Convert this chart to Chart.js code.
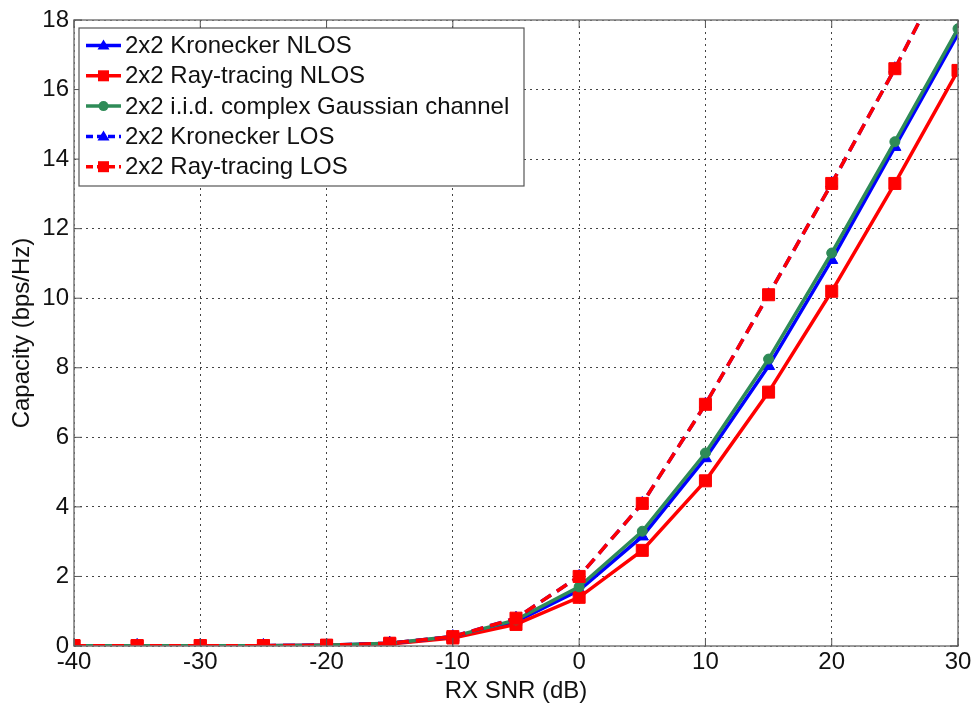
<!DOCTYPE html>
<html>
<head>
<meta charset="utf-8">
<script src="https://cdn.jsdelivr.net/npm/chart.js@4"></script>
<style>
  html, body { margin: 0; padding: 0; background: #fff; }
  #wrap { width: 975px; height: 706px; }
</style>
</head>
<body>
<div id="wrap"><canvas id="capChart" width="975" height="706"></canvas></div>
<script>
// SNR points (dB)
const snr = [-40, -35, -30, -25, -20, -15, -10, -5, 0, 5, 10, 15, 20, 25, 30];

// capacity (bps/Hz) per channel model
const kronNlos = [0.01, 0.01, 0.01, 0.01, 0.02, 0.07, 0.25, 0.7, 1.6, 3.15, 5.4, 8.05, 11.1, 14.35, 17.6];
const rayNlos  = [0.01, 0.01, 0.01, 0.01, 0.02, 0.06, 0.23, 0.62, 1.4, 2.75, 4.75, 7.3, 10.2, 13.3, 16.55];
const iidGauss = [0.01, 0.01, 0.01, 0.01, 0.02, 0.08, 0.27, 0.75, 1.7, 3.3, 5.55, 8.25, 11.3, 14.5, 17.75];
const kronLos  = [0.01, 0.01, 0.01, 0.01, 0.02, 0.08, 0.27, 0.8, 2.0, 4.1, 6.95, 10.1, 13.3, 16.6, 20.1];
const rayLos   = [0.01, 0.01, 0.01, 0.01, 0.02, 0.08, 0.27, 0.8, 2.0, 4.1, 6.95, 10.1, 13.3, 16.6, 20.1];

const xTicks = [-40, -30, -20, -10, 0, 10, 20, 30];
const yTicks = [0, 2, 4, 6, 8, 10, 12, 14, 16, 18];

const BLUE = '#0000ff';
const RED = '#ff0000';
const GREEN = '#2e8b57';
const FONT = 'Arial, "Liberation Sans", sans-serif';

function toPoints(values) {
    return snr.map((x, i) => ({ x: x, y: values[i] }));
}

const markerRadius = { triangle: 7, rect: 8.5, circle: 5 };

function makeSeries(label, values, color, shape, dashed, drawOrder) {
    return {
        label: label,
        data: toPoints(values),
        borderColor: color,
        backgroundColor: color,
        borderWidth: 3.5,
        borderDash: dashed ? [12, 7] : [],
        pointStyle: shape,
        pointRadius: markerRadius[shape],
        pointBorderWidth: 1,
        pointBorderColor: color,
        pointBackgroundColor: color,
        tension: 0,
        order: drawOrder,
        fill: false
    };
}

const seriesList = [
    makeSeries('2x2 Kronecker NLOS', kronNlos, BLUE, 'triangle', false, 5),
    makeSeries('2x2 Ray-tracing NLOS', rayNlos, RED, 'rect', false, 4),
    makeSeries('2x2 i.i.d. complex Gaussian channel', iidGauss, GREEN, 'circle', false, 3),
    makeSeries('2x2 Kronecker LOS', kronLos, BLUE, 'triangle', true, 2),
    makeSeries('2x2 Ray-tracing LOS', rayLos, RED, 'rect', true, 1)
];

// draw marker shapes for the legend box
function drawMarker(ctx, shape, x, y, color) {
    ctx.save();
    ctx.fillStyle = color;
    ctx.setLineDash([]);
    ctx.beginPath();
    if (shape === 'triangle') {
        ctx.moveTo(x, y - 6);
        ctx.lineTo(x + 6, y + 4);
        ctx.lineTo(x - 6, y + 4);
        ctx.closePath();
    } else if (shape === 'rect') {
        ctx.rect(x - 5.5, y - 5.5, 11, 11);
    } else {
        ctx.arc(x, y, 5, 0, Math.PI * 2);
    }
    ctx.fill();
    ctx.restore();
}

// axes frame + inward ticks + legend box
const framePlugin = {
    id: 'framePlugin',
    afterDatasetsDraw(chart) {
        const { ctx, chartArea: a, scales } = chart;
        ctx.save();
        ctx.strokeStyle = '#7a7a7a';
        ctx.lineWidth = 1.5;
        ctx.setLineDash([]);
        ctx.strokeRect(a.left, a.top, a.right - a.left, a.bottom - a.top);
        ctx.strokeStyle = '#555';
        ctx.lineWidth = 1;
        xTicks.forEach(v => {
            const px = scales.x.getPixelForValue(v);
            ctx.beginPath();
            ctx.moveTo(px, a.bottom); ctx.lineTo(px, a.bottom - 8);
            ctx.moveTo(px, a.top); ctx.lineTo(px, a.top + 8);
            ctx.stroke();
        });
        yTicks.forEach(v => {
            const py = scales.y.getPixelForValue(v);
            ctx.beginPath();
            ctx.moveTo(a.left, py); ctx.lineTo(a.left + 8, py);
            ctx.moveTo(a.right, py); ctx.lineTo(a.right - 8, py);
            ctx.stroke();
        });
        ctx.restore();
    },
    afterDraw(chart) {
        const ctx = chart.ctx;
        const box = { x: 79, y: 28, w: 445, h: 158 };
        ctx.save();
        ctx.fillStyle = '#fff';
        ctx.fillRect(box.x, box.y, box.w, box.h);
        ctx.strokeStyle = '#555';
        ctx.lineWidth = 1.2;
        ctx.strokeRect(box.x, box.y, box.w, box.h);
        ctx.font = '24px ' + FONT;
        ctx.textBaseline = 'middle';
        seriesList.forEach((s, i) => {
            const y = 45.5 + i * 30.3;
            ctx.strokeStyle = s.borderColor;
            ctx.lineWidth = 3.5;
            ctx.setLineDash(s.borderDash.length ? [7, 4] : []);
            ctx.beginPath();
            ctx.moveTo(86, y);
            ctx.lineTo(121, y);
            ctx.stroke();
            drawMarker(ctx, s.pointStyle, 103.5, y, s.borderColor);
            ctx.fillStyle = '#111';
            ctx.fillText(s.label, 125, y + 1);
        });
        ctx.restore();
    }
};

new Chart(document.getElementById('capChart'), {
    type: 'line',
    data: { datasets: seriesList },
    options: {
        responsive: false,
        animation: false,
        layout: { padding: { top: 20, right: 17, left: 0, bottom: 0 } },
        plugins: {
            legend: { display: false },
            tooltip: { enabled: false }
        },
        scales: {
            x: {
                type: 'linear',
                min: -40,
                max: 30,
                afterFit: (scale) => { scale.height = 60; },
                afterBuildTicks: (scale) => { scale.ticks = xTicks.map(v => ({ value: v })); },
                ticks: {
                    color: '#111',
                    font: { family: FONT, size: 24 },
                    padding: 2,
                    maxRotation: 0
                },
                grid: { color: '#444', lineWidth: 1, drawTicks: false },
                border: { display: false, dash: [2, 4] },
                title: {
                    display: true,
                    text: 'RX SNR (dB)',
                    color: '#111',
                    font: { family: FONT, size: 24 },
                    padding: { top: 0, bottom: 0 }
                }
            },
            y: {
                type: 'linear',
                min: 0,
                max: 18,
                afterFit: (scale) => { scale.width = 74; },
                afterBuildTicks: (scale) => { scale.ticks = yTicks.map(v => ({ value: v })); },
                ticks: {
                    color: '#111',
                    font: { family: FONT, size: 24 },
                    padding: 5
                },
                grid: { color: '#444', lineWidth: 1, drawTicks: false },
                border: { display: false, dash: [2, 4] },
                title: {
                    display: true,
                    text: 'Capacity (bps/Hz)',
                    color: '#111',
                    font: { family: FONT, size: 24 },
                    padding: { top: 8, bottom: 0 }
                }
            }
        }
    },
    plugins: [framePlugin]
});
</script>
</body>
</html>
